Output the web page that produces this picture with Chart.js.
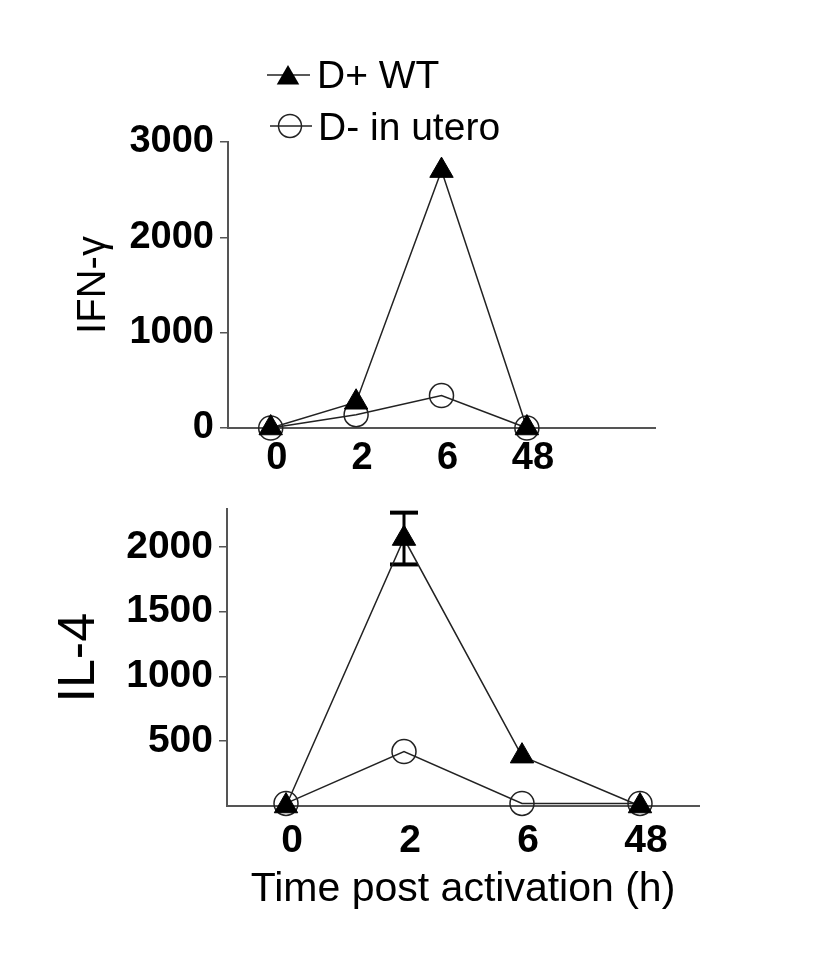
<!DOCTYPE html>
<html><head><meta charset="utf-8">
<script src="https://cdn.jsdelivr.net/npm/chart.js@4.4.0/dist/chart.umd.min.js"></script>
<style>
html,body{margin:0;padding:0;background:#fff;}
#wrap{position:relative;width:830px;height:956px;background:#fff;}
#c1{position:absolute;left:0;top:0;}
#c2{position:absolute;left:0;top:480px;}
</style></head><body>
<div id="wrap">
<canvas id="c1" width="830" height="480"></canvas>
<canvas id="c2" width="830" height="476"></canvas>
</div>
<script>
// ---- data ----
const timeLabels = ['0', '2', '6', '48'];
const seriesNames = ['D+ WT', 'D- in utero'];
const ifnWT = [0, 270, 2700, 0];
const ifnUtero = [0, 140, 340, 0];
const il4WT = [0, 2065, 385, 0];
const il4WTErr = [0, 200, 0, 0];
const il4Utero = [20, 420, 20, 20];
const ifnTicks = [0, 1000, 2000, 3000];
const il4Ticks = [500, 1000, 1500, 2000];

const FONT = "'Liberation Sans', Arial, Helvetica, sans-serif";
const AXIS = '#555';
const LINE = '#222';

function wtDataset(data) {
  return { label: seriesNames[0], data: data, borderColor: LINE, borderWidth: 1.5,
    pointStyle: 'triangle', pointRadius: 13.5, pointHoverRadius: 13.5,
    pointBackgroundColor: '#000', pointBorderColor: '#000', pointBorderWidth: 1,
    tension: 0, clip: false, fill: false };
}
function uteroDataset(data) {
  return { label: seriesNames[1], data: data, borderColor: LINE, borderWidth: 1.5,
    pointStyle: 'circle', pointRadius: 12, pointHoverRadius: 12,
    pointBackgroundColor: 'rgba(0,0,0,0)', pointBorderColor: '#222', pointBorderWidth: 1.5,
    tension: 0, clip: false, fill: false };
}

const legendPlugin = {
  id: 'customLegend',
  afterDraw(chart) {
    const ctx = chart.ctx;
    ctx.save();
    ctx.strokeStyle = LINE; ctx.lineWidth = 1.5;
    // row 1
    ctx.beginPath(); ctx.moveTo(267, 75); ctx.lineTo(310, 75); ctx.stroke();
    const r = 13, cx = 288, cy = 78;
    ctx.fillStyle = '#000';
    ctx.beginPath();
    for (let k = 0; k < 3; k++) {
      const a = k * 2 * Math.PI / 3;
      const px = cx + Math.sin(a) * r, py = cy - Math.cos(a) * r;
      if (k === 0) ctx.moveTo(px, py); else ctx.lineTo(px, py);
    }
    ctx.closePath(); ctx.fill();
    // row 2
    ctx.beginPath(); ctx.moveTo(270, 126); ctx.lineTo(312, 126); ctx.stroke();
    ctx.beginPath(); ctx.arc(290, 126, 11.5, 0, Math.PI * 2); ctx.stroke();
    ctx.fillStyle = '#000';
    ctx.font = '39px ' + FONT;
    ctx.textBaseline = 'alphabetic'; ctx.textAlign = 'left';
    ctx.fillText(seriesNames[0], 317, 88);
    ctx.fillText(seriesNames[1], 318, 140);
    ctx.restore();
  }
};

const errorBarPlugin = {
  id: 'errorBars',
  beforeDatasetsDraw(chart) {
    const ctx = chart.ctx;
    const xs = chart.scales.x, ys = chart.scales.y;
    ctx.save();
    ctx.strokeStyle = '#000';
    il4WT.forEach((v, i) => {
      const e = il4WTErr[i];
      if (!e) return;
      const x = xs.getPixelForValue(i);
      const yHi = ys.getPixelForValue(v + e), yLo = ys.getPixelForValue(v - e);
      ctx.lineWidth = 3;
      ctx.beginPath(); ctx.moveTo(x, yHi); ctx.lineTo(x, yLo); ctx.stroke();
      ctx.lineWidth = 4;
      ctx.beginPath(); ctx.moveTo(x - 14, yHi); ctx.lineTo(x + 14, yHi); ctx.stroke();
      ctx.beginPath(); ctx.moveTo(x - 14, yLo); ctx.lineTo(x + 14, yLo); ctx.stroke();
    });
    ctx.restore();
  }
};

const tickFontBold = (size) => ({ family: FONT, size: size, weight: 'bold' });

// ---- top chart: IFN-gamma ----
new Chart(document.getElementById('c1'), {
  type: 'line',
  data: { labels: [...timeLabels, ''], datasets: [wtDataset(ifnWT), uteroDataset(ifnUtero)] },
  options: {
    responsive: false, animation: false, devicePixelRatio: 1,
    layout: { padding: { top: 142, right: 175, bottom: 0, left: 0 } },
    plugins: { legend: { display: false }, tooltip: { enabled: false } },
    scales: {
      x: {
        type: 'category', offset: true,
        grid: { display: true, drawOnChartArea: false, drawTicks: false },
        border: { display: true, color: AXIS, width: 2 },
        ticks: { color: '#000', font: tickFontBold(38), padding: 8, labelOffset: 6, maxRotation: 0, autoSkip: false },
        afterFit: s => { s.height = 52; }
      },
      y: {
        min: 0, max: 3000,
        afterBuildTicks: s => { s.ticks = ifnTicks.map(v => ({ value: v })); },
        grid: { display: true, drawOnChartArea: false, drawTicks: true, tickLength: 8, color: AXIS, lineWidth: 1.5 },
        border: { display: true, color: AXIS, width: 2 },
        ticks: { color: '#000', font: tickFontBold(38), padding: 6, callback: v => String(v) },
        title: { display: true, text: 'IFN-γ', color: '#000', font: { family: FONT, size: 40 }, padding: { top: 70, bottom: 0 } },
        afterFit: s => { s.width = 228; }
      }
    }
  },
  plugins: [legendPlugin]
});

// ---- bottom chart: IL-4 ----
new Chart(document.getElementById('c2'), {
  type: 'line',
  data: { labels: timeLabels, datasets: [wtDataset(il4WT), uteroDataset(il4Utero)] },
  options: {
    responsive: false, animation: false, devicePixelRatio: 1,
    layout: { padding: { top: 23, right: 131, bottom: 0, left: 0 } },
    plugins: { legend: { display: false }, tooltip: { enabled: false } },
    scales: {
      x: {
        type: 'category', offset: true,
        grid: { display: true, drawOnChartArea: false, drawTicks: false },
        border: { display: true, color: AXIS, width: 2 },
        ticks: { color: '#000', font: tickFontBold(39), padding: 12, labelOffset: 6, maxRotation: 0, autoSkip: false },
        title: { display: true, text: 'Time post activation (h)', color: '#000', font: { family: FONT, size: 41 }, padding: { top: 0, bottom: 42 } },
        afterFit: s => { s.height = 150; }
      },
      y: {
        min: 0, max: 2290,
        afterBuildTicks: s => { s.ticks = il4Ticks.map(v => ({ value: v })); },
        grid: { display: true, drawOnChartArea: false, drawTicks: true, tickLength: 8, color: AXIS, lineWidth: 1.5 },
        border: { display: true, color: AXIS, width: 2 },
        ticks: { color: '#000', font: tickFontBold(39), padding: 6, callback: v => String(v) },
        title: { display: true, text: 'IL-4', color: '#000', font: { family: FONT, size: 52 }, padding: { top: 48, bottom: 0 } },
        afterFit: s => { s.width = 227; }
      }
    }
  },
  plugins: [errorBarPlugin]
});
</script>
</body></html>
